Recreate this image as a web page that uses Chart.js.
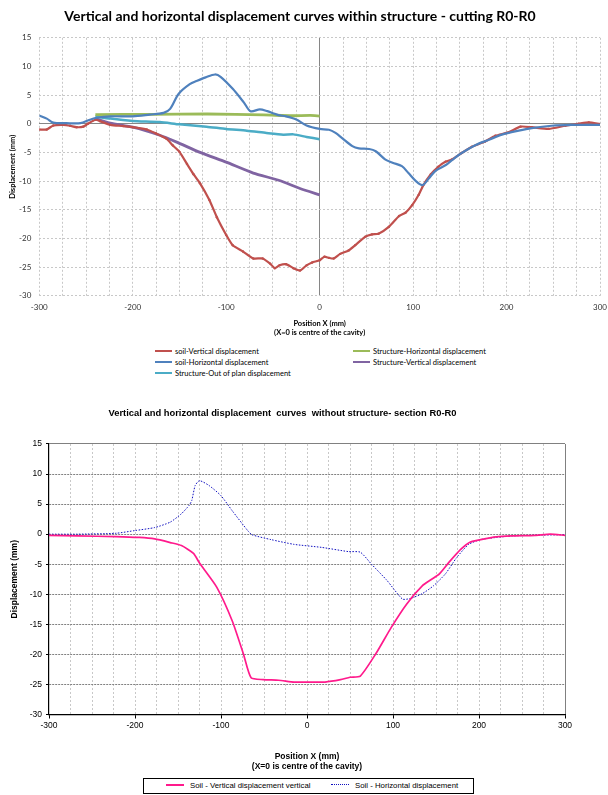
<!DOCTYPE html>
<html>
<head>
<meta charset="utf-8">
<script src="https://cdn.jsdelivr.net/npm/chart.js@4.4.1/dist/chart.umd.min.js"></script>
<style>
  body { margin: 0; width: 608px; height: 795px; background: #fff; position: relative; overflow: hidden; }
  canvas { position: absolute; left: 0; }
  #c1 { top: 0; }
  #c2 { top: 395px; }
  .lg1 { position: absolute; font: 7.5px Lato, sans-serif; color: #000; white-space: nowrap; line-height: 10px; }
  .lg1 .s { display: inline-block; width: 17px; height: 2px; vertical-align: middle; margin-right: 3px; position: relative; top: -1px; }
  #leg2 { position: absolute; left: 143px; top: 778px; width: 329px; height: 14px; border: 1px solid #000;
          font: 7.8px "Liberation Sans", sans-serif; color: #000; white-space: nowrap; }
  #leg2 span.it { position: absolute; top: 2px; line-height: 10px; }
  #leg2 span.s { display: inline-block; width: 18px; vertical-align: middle; margin-right: 6px; position: relative; top: -1px; }
</style>
</head>
<body>
<canvas id="c1" width="614" height="345"></canvas>
<canvas id="c2" width="608" height="380"></canvas>
<div id="leg2"></div>
<script>
// --- chart 1: within structure ---
const soilVertX = [-300,-292,-285,-274,-267,-260,-253,-248,-240,-235,-224,-210,-200,-185,-175,-164,-157,-150,-142,-135,
  -128,-118,-110,-100,-93,-82,-71,-61,-53,-48,-43,-36,-28,-21,-14,-8,0,5,10,15,
  22,31,38,49,56,63,74,85,92,99,106,111,119,127,135,142,152,163,177,188,202,215,227,245,263,277,288,300];
const soilVertY = [-1.0,-1.0,-0.3,-0.2,-0.35,-0.6,-0.5,0,0.7,0.46,-0.2,-0.4,-0.6,-1.0,-1.7,-2.6,-3.8,-4.9,-7,-8.8,
  -10.4,-13.3,-16.3,-19.4,-21.2,-22.3,-23.5,-23.5,-24.4,-25.2,-24.7,-24.5,-25.2,-25.6,-24.7,-24.2,-23.8,-23.2,-23.4,-23.5,
  -22.7,-22.1,-21.2,-19.7,-19.3,-19.2,-18,-16.1,-15.5,-14.2,-12.4,-10.7,-8.8,-7.5,-6.6,-6.2,-5.1,-4.0,-3.1,-2.1,
  -1.5,-0.5,-0.6,-0.9,-0.35,0,0.25,-0.05];

const soilHorX = [-300,-292,-285,-271,-256,-246,-240,-224,-200,-182,-167,-160,-151,-139,-131,-122,-112,-106,-93,-81,
  -74,-64,-56,-50,-44,-36,-25,-14,0,10,17,24,35,42,53,60,70,78,88,95,
  103,110,117,124,135,142,152,167,181,195,213,227,248,270,300];
const soilHorY = [1.45,0.9,0.2,0.1,0.1,0.7,1.0,1.3,1.3,1.6,1.9,2.6,5.2,6.9,7.5,8.1,8.6,8.2,6.1,3.7,
  2.2,2.5,2.2,1.85,1.5,1.3,0.75,-0.3,-0.9,-1.05,-1.6,-2.5,-3.9,-4.3,-4.4,-4.8,-6.2,-6.8,-7.4,-8.6,
  -10,-10.7,-9.5,-8.2,-7.2,-6.3,-5.1,-3.7,-2.8,-1.9,-1.2,-0.76,-0.35,-0.2,-0.2];

const strHorX = [-240,-180,-120,-60,-30,-10,0];
const strHorY = [1.6,1.65,1.7,1.55,1.4,1.45,1.35];

const strVertX = [-240,-224,-200,-171,-153,-128,-100,-71,-43,-21,0];
const strVertY = [0.9,0.1,-0.6,-2.0,-3.2,-5.0,-6.7,-8.6,-9.9,-11.3,-12.4];

const strOutX = [-240,-224,-200,-171,-150,-121,-100,-78,-57,-39,-28,-14,0];
const strOutY = [1.3,0.9,0.5,0.3,-0.1,-0.5,-0.9,-1.2,-1.6,-1.9,-1.85,-2.3,-2.7];

// --- chart 2: without structure ---
const freeVertX = [-300,-267,-222,-195,-177,-159,-146,-132,-125,-105,-87,-74,-65,-51,-33,-15,3,21,39,50,
  62,80,98,116,134,145,154,165,179,190,202,220,238,265,283,300];
const freeVertY = [-0.2,-0.3,-0.4,-0.55,-0.8,-1.4,-1.9,-3.2,-4.8,-8.8,-14.4,-19.9,-23.9,-24.2,-24.3,-24.6,-24.6,-24.6,-24.2,-23.8,
  -23.6,-19.9,-15.5,-11.6,-8.6,-7.5,-6.6,-4.7,-2.5,-1.3,-0.9,-0.45,-0.3,-0.2,0,-0.2];

const freeHorX = [-300,-267,-222,-200,-177,-159,-146,-137,-134,-130,-125,-114,-100,-87,-69,-64,-42,-15,17,48,
  62,75,93,111,120,134,147,161,174,188,202,220,238,274,300];
const freeHorY = [0,0,0.15,0.6,1.1,2.0,3.4,4.8,5.6,8.1,8.9,8.1,6.4,3.9,0.6,-0.1,-0.9,-1.7,-2.2,-2.9,
  -3.0,-5,-7.7,-10.8,-10.7,-9.9,-8.6,-6.6,-3.9,-1.7,-0.9,-0.55,-0.3,-0.15,-0.1];

const pts = (xs, ys) => xs.map((x, i) => ({ x, y: ys[i] }));
const isTick = c => c.type === 'tick' && c.tick;

const F1 = 'Lato';
const chart1 = new Chart(document.getElementById('c1'), {
  type: 'line',
  data: {
    datasets: [
      { label: 'soil-Vertical displacement', data: pts(soilVertX, soilVertY), borderColor: '#C0504D', backgroundColor: '#C0504D',
        borderWidth: 2.2, pointRadius: 1.2, pointBorderWidth: 0, tension: 0.2, order: 2 },
      { label: 'Structure-Horizontal displacement', data: pts(strHorX, strHorY), borderColor: '#9BBB59', backgroundColor: '#9BBB59',
        borderWidth: 2.8, pointRadius: 0, tension: 0.2, order: 4 },
      { label: 'soil-Horizontal displacement', data: pts(soilHorX, soilHorY), borderColor: '#4F81BD', backgroundColor: '#4F81BD',
        borderWidth: 2.2, pointRadius: 0, tension: 0.3, order: 1 },
      { label: 'Structure-Vertical displacement', data: pts(strVertX, strVertY), borderColor: '#8064A2', backgroundColor: '#8064A2',
        borderWidth: 2.8, pointRadius: 0, tension: 0.2, order: 3 },
      { label: 'Structure-Out of plan displacement', data: pts(strOutX, strOutY), borderColor: '#4BACC6', backgroundColor: '#4BACC6',
        borderWidth: 2.5, pointRadius: 0, tension: 0.2, order: 5 }
    ]
  },
  options: {
    responsive: false,
    animation: false,
    layout: { padding: { left: 0, right: 14, top: 0, bottom: 0 } },
    plugins: {
      legend: { display: false },
      tooltip: { enabled: false },
      title: {
        display: true,
        text: 'Vertical and horizontal displacement curves within structure - cutting R0-R0',
        font: { family: F1, size: 14, weight: 'bold' }, color: '#000',
        padding: { top: 8, bottom: 13 }
      }
    },
    scales: {
      x: {
        type: 'linear', min: -300, max: 300,
        ticks: { stepSize: 25, autoSkip: false, maxRotation: 0, padding: 7, color: '#333',
          font: { family: F1, size: 8 }, callback: v => (v % 100 === 0 ? v : '') },
        grid: { drawTicks: false, color: c => (c.tick && c.tick.value === 0 ? '#868686' : '#c8c8c8') },
        border: { display: false, color: '#868686', dash: c => (isTick(c) && c.tick.value !== 0 ? [2, 2] : []) },
        title: { display: true, text: ['Position X (mm)', '(X=0 is centre of the cavity)'], color: '#000',
          font: { family: F1, size: 7.5, weight: 'bold' }, padding: { top: 0, bottom: 7.5 } },
        afterFit: s => { s.height = 49.3; }
      },
      y: {
        min: -30, max: 15,
        ticks: { stepSize: 5, padding: 8, color: '#333', font: { family: F1, size: 8 } },
        grid: { drawTicks: false, color: c => (c.tick && c.tick.value === 0 ? '#868686' : '#c8c8c8') },
        border: { display: false, color: '#868686', dash: c => (isTick(c) && c.tick.value !== 0 ? [2, 2] : []) },
        title: { display: true, text: 'Displacement (mm)', color: '#000',
          font: { family: F1, size: 7.5, weight: 'bold' }, padding: { top: 8, bottom: 0 } },
        afterFit: s => { s.width = 39.3; }
      }
    }
  }
});

// legend for chart 1, two columns like the original
chart1.data.datasets.forEach((ds, i) => {
  const d = document.createElement('div');
  d.className = 'lg1';
  d.style.left = (i % 2 === 0 ? 155 : 353) + 'px';
  d.style.top = (347 + Math.floor(i / 2) * 11) + 'px';
  d.innerHTML = '<span class="s" style="background:' + ds.borderColor + '"></span>' + ds.label;
  document.body.appendChild(d);
});

const F2 = 'Liberation Sans';
const chart2 = new Chart(document.getElementById('c2'), {
  type: 'line',
  data: {
    datasets: [
      { label: 'Soil - Vertical displacement vertical', data: pts(freeVertX, freeVertY), borderColor: '#FF1A8C',
        borderWidth: 1.7, pointRadius: 0, tension: 0.2 },
      { label: 'Soil - Horizontal displacement', data: pts(freeHorX, freeHorY), borderColor: '#1010C0',
        borderWidth: 1, borderDash: [1.5, 1.5], pointRadius: 0, tension: 0.2 }
    ]
  },
  options: {
    responsive: false,
    animation: false,
    layout: { padding: { left: 0, right: 43, top: 0, bottom: 0 } },
    plugins: {
      legend: { display: false },
      tooltip: { enabled: false },
      title: {
        display: true,
        text: 'Vertical and horizontal displacement  curves  without structure- section R0-R0',
        font: { family: F2, size: 9.4, weight: 'bold' }, color: '#000',
        padding: { top: 12.3, bottom: 25.4 }
      }
    },
    scales: {
      x: {
        type: 'linear', min: -300, max: 300,
        ticks: { stepSize: 25, autoSkip: false, maxRotation: 0, padding: 2, color: '#000',
          font: { family: F2, size: 8.5 }, callback: v => (v % 100 === 0 ? v : '') },
        grid: {
          tickLength: 4,
          color: c => (!c.tick || c.tick.value === -300 ? 'rgba(0,0,0,0)' : c.tick.value === 300 ? '#808080' : '#c8c8c8'),
          tickColor: c => (c.tick && c.tick.value % 100 === 0 ? '#000' : 'rgba(0,0,0,0)')
        },
        border: { display: true, color: '#000', width: 1.2,
          dash: c => (isTick(c) && c.tick.value !== 300 ? [2, 2] : []) },
        title: { display: true, text: ['Position X (mm)', '(X=0 is centre of the cavity)'], color: '#000',
          font: { family: F2, size: 8.5, weight: 'bold' }, padding: { top: 0, bottom: 3 } },
        afterFit: s => { s.height = 60.5; }
      },
      y: {
        min: -30, max: 15,
        ticks: { stepSize: 5, padding: 4, color: '#000', font: { family: F2, size: 8.5 } },
        grid: {
          tickLength: 3,
          color: c => (!c.tick || c.tick.value === -30 ? 'rgba(0,0,0,0)' : '#808080'),
          tickColor: '#000'
        },
        border: { display: true, color: '#000', width: 1.2,
          dash: c => (isTick(c) && c.tick.value !== 15 ? [2, 1] : []) },
        title: { display: true, text: 'Displacement (mm)', color: '#000',
          font: { family: F2, size: 8.5, weight: 'bold' }, padding: { top: 10, bottom: 0 } },
        afterFit: s => { s.width = 49; }
      }
    }
  }
});

// boxed legend for chart 2
const leg2 = document.getElementById('leg2');
const leg2Left = [22, 187];
chart2.data.datasets.forEach((ds, i) => {
  const line = ds.borderDash ? 'border-top:1px dotted ' + ds.borderColor : 'border-top:2px solid ' + ds.borderColor;
  const it = document.createElement('span');
  it.className = 'it';
  it.style.left = leg2Left[i] + 'px';
  it.innerHTML = '<span class="s" style="' + line + '"></span>' + ds.label;
  leg2.appendChild(it);
});
</script>
</body>
</html>
